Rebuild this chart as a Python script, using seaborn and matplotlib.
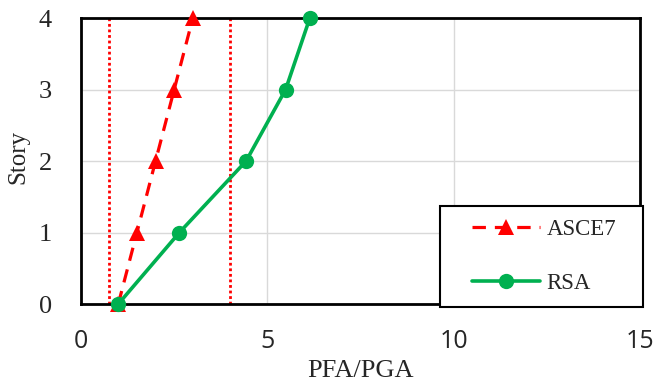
import matplotlib
matplotlib.use("Agg")
import matplotlib.pyplot as plt
from matplotlib.patches import Rectangle
import seaborn as sns

stories = [0, 1, 2, 3, 4]
asce7 = [1.0, 1.5, 2.0, 2.5, 3.0]
rsa = [1.0, 2.64, 4.43, 5.49, 6.14]
limits = [0.75, 4.0]
xticks = [0, 5, 10, 15]
yticks = [0, 1, 2, 3, 4]

sns.set_theme(style="white")
plt.rcParams['font.family'] = ['Liberation Serif', 'DejaVu Serif']

fig = plt.figure(figsize=(6.54, 3.84), dpi=100)
ax = fig.add_axes([0.1239, 0.2083, 0.8547, 0.7447])

for xv in limits:
    ax.axvline(xv, color="#ff0000", linestyle=(0, (1, 1.0)), linewidth=2.0, zorder=2)

sns.lineplot(x=asce7, y=stories, ax=ax, sort=False, color="#ff0000", linewidth=2.3,
             linestyle=(0, (4.2, 2.8)), marker="^", markersize=11, markeredgewidth=0,
             label="ASCE7", clip_on=False, zorder=3)
sns.lineplot(x=rsa, y=stories, ax=ax, sort=False, color="#00b050", linewidth=2.6,
             marker="o", markersize=11, markeredgewidth=0,
             label="RSA", clip_on=False, zorder=4)

ax.set_xlim(0, 15)
ax.set_ylim(0, 4)
ax.set_xticks(xticks)
ax.set_yticks(yticks)
ax.set_xticklabels([str(t) for t in xticks], fontfamily=["Open Sans", "DejaVu Sans"], fontsize=18)
ax.set_yticklabels([str(t) for t in yticks], fontsize=19)
ax.tick_params(axis="x", length=0, pad=18)
ax.tick_params(axis="y", length=0, pad=21)
ax.grid(True, color="#d9d9d9", linewidth=1.0)
ax.set_axisbelow(True)
for s in ax.spines.values():
    s.set_color("black")
    s.set_linewidth(2.0)

ax.set_xlabel("PFA/PGA", fontsize=19, labelpad=4)
ax.set_ylabel("Story", fontsize=18)
ax.yaxis.set_label_coords(-0.092, 0.515)

h, l = ax.get_legend_handles_labels()
ax.get_legend().remove()

box = Rectangle((440 / 654, 1 - 307 / 384), (643 - 440) / 654, (307 - 206) / 384,
                transform=fig.transFigure, facecolor="white", edgecolor="black",
                linewidth=1.5, zorder=4)
fig.add_artist(box)

leg = fig.legend(h, l, loc="center left", bbox_to_anchor=(472 / 654, 1 - 256.5 / 384),
                 fontsize=16.5, frameon=False, borderpad=0, labelspacing=1.4,
                 handlelength=2.95, handletextpad=0.3, borderaxespad=0)
leg.set_zorder(5)

fig.savefig("out.png", dpi=100)
